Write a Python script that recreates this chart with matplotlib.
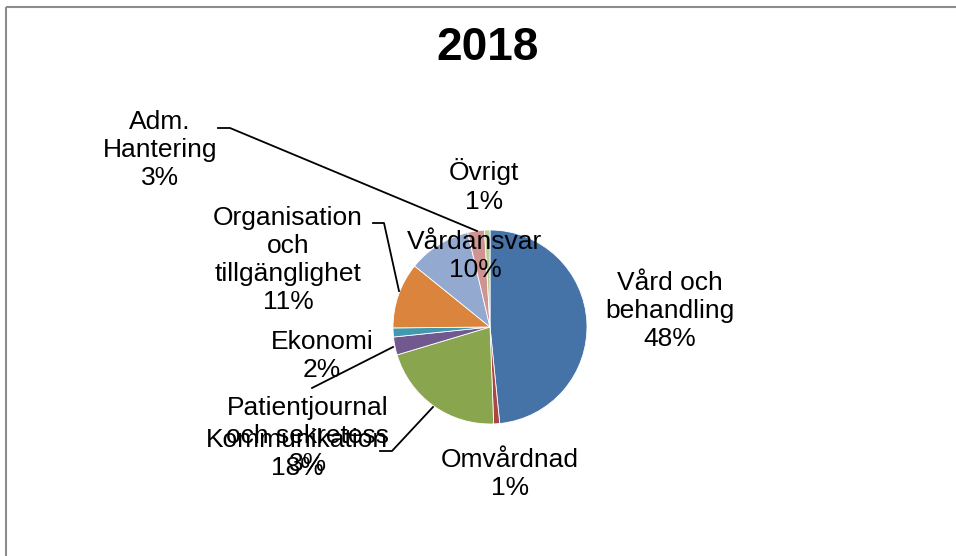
import matplotlib.pyplot as plt
from matplotlib.patches import Rectangle

# pie data (clockwise from 12 o'clock)
categories = ['Vård och\nbehandling', 'Omvårdnad', 'Kommunikation',
              'Patientjournal\noch sekretess', 'Ekonomi',
              'Organisation\noch\ntillgänglighet', 'Vårdansvar',
              'Adm.\nHantering', 'Övrigt']
shares = [48.5, 1.0, 21.0, 3.0, 1.5, 11.0, 10.5, 2.8, 0.9]
pct_labels = ['48%', '1%', '18%', '3%', '2%', '11%', '10%', '3%', '1%']
colors = ['#4572A7', '#AA4643', '#89A54E', '#71588F', '#4198AF',
          '#DB843D', '#93A9CF', '#D19392', '#B9CD96']

# label centres in pixel space
label_pos = [(670, 311), (510, 474), (297, 454), (308, 436), (322, 356),
             (288, 260), (475, 256), (160, 150), (484, 186)]

plt.rcParams['font.family'] = ['Liberation Sans', 'DejaVu Sans']

fig = plt.figure(figsize=(9.56, 5.56), dpi=100)
ax = fig.add_axes([0, 0, 1, 1])

# chart border (only top/left visible)
ax.add_patch(Rectangle((6, 7), 1000, 600, fill=False, edgecolor='#8c8c8c', linewidth=1.5))

# inverted y: startangle -90 + counterclock draws clockwise from top
ax.pie(shares, colors=colors, startangle=-90, counterclock=True,
       center=(490, 327), radius=97, frame=True,
       wedgeprops=dict(edgecolor='white', linewidth=0.6))
ax.set_xlim(0, 956)
ax.set_ylim(556, 0)
ax.set_aspect('equal')
ax.axis('off')

# leader lines
ax.plot([218, 230, 477], [128, 128, 231], color='black', lw=1.3)
ax.plot([373, 384, 399], [223, 223, 291], color='black', lw=1.3)
ax.plot([393, 312], [347, 388], color='black', lw=1.3)
ax.plot([433, 392, 380], [407, 451, 451], color='black', lw=1.3)

for cat, pct, (x, y) in zip(categories, pct_labels, label_pos):
    ax.text(x, y, cat + '\n' + pct, ha='center', va='center', fontsize=19,
            linespacing=1.22)

ax.text(488, 48, '2018', ha='center', va='center', fontsize=33, fontweight='bold')

fig.savefig('out.png', dpi=100)
